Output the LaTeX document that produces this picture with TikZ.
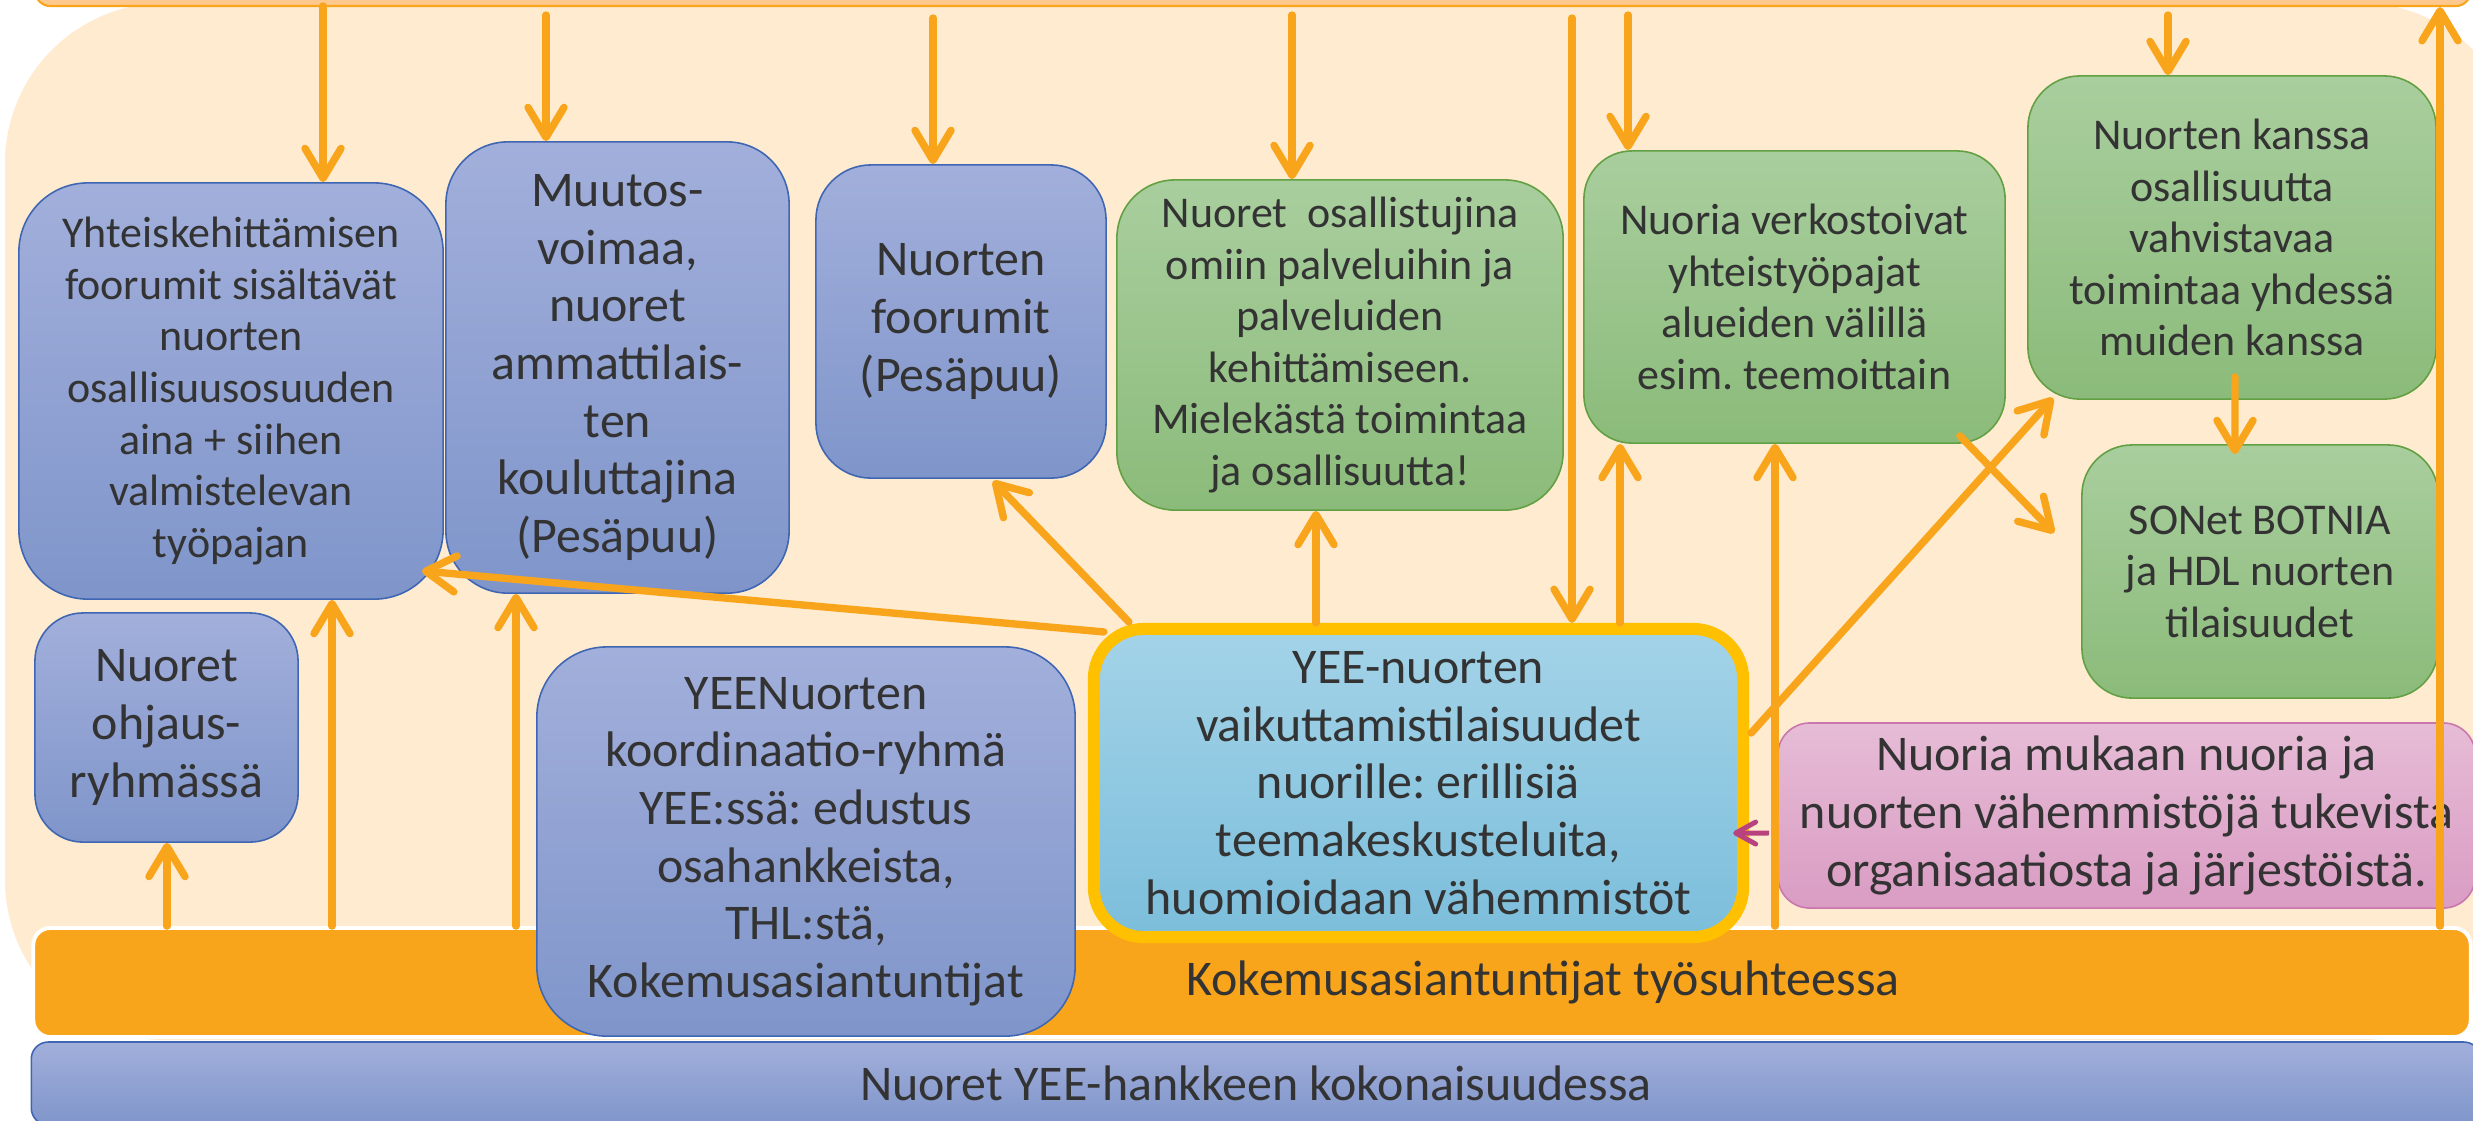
\documentclass[tikz,border=0pt]{standalone}
\usepackage{fontspec}
\setmainfont{Carlito}
\usetikzlibrary{arrows.meta}
\frenchspacing
\definecolor{beige}{HTML}{FEEBD0}
\definecolor{topbarF}{HTML}{FFC88C}
\definecolor{arrO}{HTML}{F8A51C}
\definecolor{txt}{HTML}{333333}
\definecolor{blueT}{HTML}{A2AFDB}
\definecolor{blueBt}{HTML}{7F95CA}
\definecolor{blueB}{HTML}{3F66B3}
\definecolor{greenT}{HTML}{A9CE9E}
\definecolor{greenBt}{HTML}{8BBB7A}
\definecolor{greenB}{HTML}{62A043}
\definecolor{lbT}{HTML}{A3D3E8}
\definecolor{lbBt}{HTML}{7CBEDB}
\definecolor{gold}{HTML}{FFC000}
\definecolor{pinkT}{HTML}{E6BCD6}
\definecolor{pinkBt}{HTML}{DA9CC3}
\definecolor{pinkB}{HTML}{C977AD}
\definecolor{magArr}{HTML}{B8427E}
\tikzset{
  smallt/.style={font=\fontsize{12.5pt}{14.65pt}\selectfont},
  larget/.style={font=\fontsize{14.2pt}{16.4pt}\selectfont},
  box/.style={align=center, inner sep=0pt, text=txt, line width=0.45pt},
  bluebox/.style={box, draw=blueB, top color=blueT, bottom color=blueBt},
  greenbox/.style={box, draw=greenB, top color=greenT, bottom color=greenBt},
  ltbluebox/.style={box, draw=gold, line width=3.41pt, top color=lbT, bottom color=lbBt},
  pinkbox/.style={box, draw=pinkB, top color=pinkT, bottom color=pinkBt},
  arr/.style={draw=arrO, line width=2.1pt, line cap=round, -{Straight Barb[length=0.3cm,width=0.36cm,round]}},
  parr/.style={draw=magArr, line width=1.4pt, -{Straight Barb[length=0.2cm,width=0.22cm,round]}},
}
\begin{document}
\begin{tikzpicture}[x=0.01cm,y=-0.01cm]
\useasboundingbox (0,0) rectangle (2473,1120);
% background
\fill[beige, rounded corners=1.6cm] (5,3) rectangle (2520,1040);
\node[draw=arrO, fill=topbarF, line width=0.6pt, rounded corners=0.15cm,
      minimum width=24.34cm, minimum height=0.46cm, inner sep=0pt] (topbar) at (1253,-17) {};
% bottom bars
\node[fill=arrO, draw=white, line width=1.1pt, rounded corners=0.17cm,
      minimum width=24.36cm, minimum height=1.09cm, inner sep=0pt] (kbar) at (1252,982.5) {};
\node[bluebox, larget, rounded corners=0.17cm, minimum width=24.48cm, minimum height=0.83cm]
      (nbar) at (1256,1083.5) {Nuoret YEE-hankkeen kokonaisuudessa};
\node[larget, text=txt, inner sep=0pt] (ktext) at (1543,982) {Kokemusasiantuntijat työsuhteessa};
% boxes
\node[bluebox, smallt, rounded corners=0.69cm, minimum width=4.24cm, minimum height=4.16cm]
  (b1) at (231,391) {Yhteiskehittämisen\\foorumit sisältävät\\nuorten\\osallisuusosuuden\\aina + siihen\\valmistelevan\\työpajan};
\node[bluebox, larget, rounded corners=0.62cm, minimum width=3.43cm, minimum height=4.51cm]
  (b2) at (617.5,367.5) {Muutos-\\voimaa,\\nuoret\\ammattilais-\\ten\\kouluttajina\\(Pesäpuu)};
\node[bluebox, larget, rounded corners=0.55cm, minimum width=2.90cm, minimum height=3.13cm]
  (b3) at (961,321.5) {Nuorten\\foorumit\\(Pesäpuu)};
\node[greenbox, smallt, rounded corners=0.58cm, minimum width=4.46cm, minimum height=3.30cm]
  (b4) at (1340,345) {Nuoret\ \ osallistujina\\omiin palveluihin ja\\palveluiden\\kehittämiseen.\\Mielekästä toimintaa\\ja osallisuutta!};
\node[greenbox, smallt, rounded corners=0.48cm, minimum width=4.21cm, minimum height=2.92cm]
  (b5) at (1794.5,297) {Nuoria verkostoivat\\yhteistyöpajat\\alueiden välillä\\esim. teemoittain};
\node[greenbox, smallt, rounded corners=0.52cm, minimum width=4.08cm, minimum height=3.23cm]
  (b6) at (2232,237.5) {Nuorten kanssa\\osallisuutta\\vahvistavaa\\toimintaa yhdessä\\muiden kanssa};
\node[greenbox, smallt, rounded corners=0.50cm, minimum width=3.56cm, minimum height=2.53cm]
  (b7) at (2260,571.5) {SONet BOTNIA\\ja HDL nuorten\\tilaisuudet};
\node[bluebox, larget, rounded corners=0.48cm, minimum width=2.63cm, minimum height=2.29cm]
  (b8) at (166.5,727.5) {Nuoret\\ohjaus-\\ryhmässä};
\node[bluebox, larget, rounded corners=0.70cm, minimum width=5.38cm, minimum height=3.89cm]
  (b9) at (806,841.5) {YEENuorten\\koordinaatio-ryhmä\\YEE:ssä: edustus\\osahankkeista,\\THL:stä,\\Kokemusasiantuntijat};
\node[ltbluebox, larget, rounded corners=0.50cm, minimum width=6.49cm, minimum height=3.08cm]
  (b10) at (1418.5,783) {YEE-nuorten\\vaikuttamistilaisuudet\\nuorille: erillisiä\\teemakeskusteluita,\\huomioidaan vähemmistöt};
\node[pinkbox, larget, rounded corners=0.32cm, minimum width=6.97cm, minimum height=1.85cm]
  (b11) at (2126.5,815.5) {Nuoria mukaan nuoria ja\\nuorten vähemmistöjä tukevista\\organisaatiosta ja järjestöistä.};
% start coordinates of arrows from the top bar
\coordinate (s1) at (323,6);
\coordinate (s2) at (546,15);
\coordinate (s3) at (933,18);
\coordinate (s4) at (1292,15);
\coordinate (s5) at (1572,18);
\coordinate (s6) at (1628,15);
\coordinate (s7) at (2168,15);
\draw[arr] (s1) -- (s1 |- b1.north);
\draw[arr] (s2) -- (s2 |- b2.north);
\draw[arr] (s3) -- (s3 |- b3.north);
\draw[arr] (s4) -- (s4 |- b4.north);
\draw[arr] (s5) -- (s5 |- b10.north);
\draw[arr] (s6) -- (s6 |- b5.north);
\draw[arr] (s7) -- (s7 |- b6.north);
% up arrows from the orange bar
\coordinate (u1) at (167,928);
\coordinate (u2) at (332,928);
\coordinate (u3) at (516,928);
\coordinate (u4) at (1775,928);
\coordinate (u5) at (2440,928);
\coordinate (u6) at (1620,629);
\coordinate (u7) at (1316,629);
\draw[arr] (kbar.north -| u1) -- (b8.south -| u1);
\draw[arr] (kbar.north -| u2) -- (b1.south -| u2);
\draw[arr] (kbar.north -| u3) -- (b2.south -| u3);
\draw[arr] (kbar.north -| u4) -- (b5.south -| u4);
\draw[arr] (kbar.north -| u5) -- (topbar.south -| u5);
\draw[arr] (b10.north -| u6) -- (b5.south -| u6);
\draw[arr] (b10.north -| u7) -- (b4.south -| u7);
% diagonal arrows
\draw[arr] ([shift={(0.41cm,0.01cm)}]b10.north west) -- ([shift={(0.32cm,-0.02cm)}]b3.south);
\draw[arr] ([shift={(0.16cm,-0.09cm)}]b10.north west) -- ([shift={(-0.22cm,0.29cm)}]b1.south east);
\draw[arr] ([shift={(0.02cm,0.5cm)}]b10.east) -- ([shift={(0.26cm,0.02cm)}]b6.south west);
\draw[arr] ([shift={(-0.46cm,0.08cm)}]b5.south east) -- ([shift={(-0.27cm,0.385cm)}]b7.west);
\draw[arr] ([shift={(0.03cm,0.23cm)}]b6.south) -- ([shift={(-0.25cm,-0.1cm)}]b7.north);
\draw[parr] ([shift={(-0.08cm,-0.175cm)}]b11.west) -- ([shift={(-0.16cm,-0.5cm)}]b10.east);
\end{tikzpicture}
\end{document}
